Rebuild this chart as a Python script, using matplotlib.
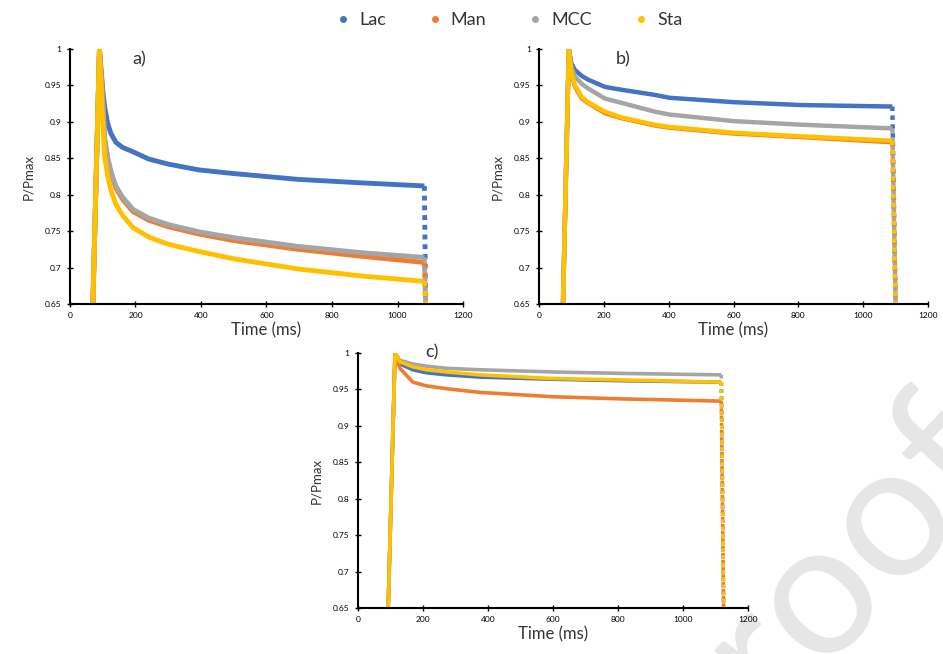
import matplotlib.pyplot as plt
from matplotlib.lines import Line2D
from matplotlib.ticker import FormatStrFormatter

plt.rcParams['font.family'] = ['Lato', 'DejaVu Sans']

names = ["Lac", "Man", "MCC", "Sta"]
colors = ["#4472C4", "#ED7D31", "#A5A5A5", "#FFC000"]

# panel a
t_a = [70, 90, 100, 106, 115, 125, 140, 160, 192, 240, 300, 394, 500, 697, 900, 1082, 1086]
lac_a = [0.65, 1.0, 0.944, 0.92, 0.898, 0.884, 0.872, 0.865, 0.859, 0.849, 0.842, 0.834, 0.829, 0.821, 0.816, 0.812, 0.65]
man_a = [0.65, 1.0, 0.93, 0.875, 0.849, 0.829, 0.809, 0.794, 0.777, 0.765, 0.756, 0.746, 0.737, 0.725, 0.715, 0.707, 0.65]
mcc_a = [0.65, 1.0, 0.93, 0.878, 0.852, 0.832, 0.812, 0.797, 0.780, 0.768, 0.759, 0.749, 0.741, 0.729, 0.720, 0.714, 0.65]
sta_a = [0.65, 1.0, 0.90, 0.852, 0.826, 0.806, 0.787, 0.772, 0.755, 0.742, 0.732, 0.722, 0.712, 0.698, 0.688, 0.681, 0.65]

# panel b
t_b = [74, 92, 100, 111, 132, 151, 203, 255, 357, 403, 600, 812, 1090, 1100]
lac_b = [0.65, 1.0, 0.98, 0.971, 0.963, 0.958, 0.948, 0.944, 0.937, 0.933, 0.927, 0.923, 0.921, 0.65]
man_b = [0.65, 1.0, 0.965, 0.948, 0.932, 0.926, 0.912, 0.905, 0.895, 0.892, 0.884, 0.879, 0.872, 0.65]
mcc_b = [0.65, 1.0, 0.975, 0.962, 0.952, 0.946, 0.932, 0.926, 0.914, 0.910, 0.901, 0.896, 0.891, 0.65]
sta_b = [0.65, 1.0, 0.967, 0.95, 0.934, 0.927, 0.914, 0.906, 0.896, 0.893, 0.885, 0.880, 0.874, 0.65]

# panel c
t_c = [93, 114, 129, 169, 210, 273, 375, 600, 816, 1118, 1125]
lac_c = [0.65, 1.0, 0.985, 0.977, 0.973, 0.970, 0.967, 0.964, 0.962, 0.960, 0.65]
man_c = [0.65, 1.0, 0.979, 0.960, 0.955, 0.951, 0.946, 0.940, 0.937, 0.934, 0.65]
mcc_c = [0.65, 1.0, 0.99, 0.985, 0.982, 0.979, 0.977, 0.974, 0.972, 0.970, 0.65]
sta_c = [0.65, 1.0, 0.988, 0.981, 0.977, 0.974, 0.970, 0.965, 0.963, 0.960, 0.65]

xticks = [0, 200, 400, 600, 800, 1000, 1200]
yticks = [0.65, 0.7, 0.75, 0.8, 0.85, 0.9, 0.95, 1.0]


def draw_panel(ax, t, series, lw):
    for y, c in zip(series, colors):
        ax.plot(t[:-1], y[:-1], color=c, lw=lw, solid_capstyle='butt', solid_joinstyle='round')
        ax.plot(t[-2:], y[-2:], color=c, lw=lw, ls=(0, (1, 1)))
    ax.set_xlim(0, 1200)
    ax.set_ylim(0.65, 1.0)
    ax.set_xticks(xticks)
    ax.set_yticks(yticks)
    ax.yaxis.set_major_formatter(FormatStrFormatter('%g'))
    ax.tick_params(labelsize=6, direction='inout', length=4, width=1, pad=4)
    for s in ['top', 'right']:
        ax.spines[s].set_visible(False)
    for s in ['left', 'bottom']:
        ax.spines[s].set_linewidth(1.5)
    ax.set_xlabel("Time (ms)", fontsize=12, color='#333333', labelpad=2)
    ax.set_ylabel("P/Pmax", fontsize=9.5, color='#333333', labelpad=8)
    return ax


fig = plt.figure(figsize=(9.43, 6.54), dpi=100)

# watermark (partly outside the page, as in the reference), behind the axes
fig.text(815 / 943, 1 - 590 / 654, "proof", rotation=47, rotation_mode='anchor',
         ha='center', va='center', fontsize=135, color='#e6e6e6', zorder=-1)

ax_a = fig.add_axes([0.0742, 0.5352, 0.4168, 0.3899])
ax_b = fig.add_axes([0.5716, 0.5352, 0.4125, 0.3899])
ax_c = fig.add_axes([0.3796, 0.0703, 0.4136, 0.3899])
for ax in (ax_a, ax_b, ax_c):
    ax.patch.set_alpha(0)

draw_panel(ax_a, t_a, [lac_a, man_a, mcc_a, sta_a], 3.5)
draw_panel(ax_b, t_b, [lac_b, man_b, mcc_b, sta_b], 3.2)
draw_panel(ax_c, t_c, [lac_c, man_c, mcc_c, sta_c], 2.6)

fig.text(139 / 943, 1 - 59 / 654, "a)", fontsize=13, ha='center', va='center', color='#333333')
fig.text(623 / 943, 1 - 59 / 654, "b)", fontsize=13, ha='center', va='center', color='#333333')
fig.text(432 / 943, 1 - 352 / 654, "c)", fontsize=13, ha='center', va='center', color='#333333')

handles = [Line2D([], [], ls='none', marker='o', markersize=4, color=c) for c in colors]
fig.legend(handles, names, loc='center', bbox_to_anchor=(508 / 943, 1 - 20 / 654), ncol=4,
           frameon=False, fontsize=13, handlelength=1.0, handletextpad=0.4,
           columnspacing=2.2, labelcolor='#333333')

fig.savefig("out.png", dpi=100)
